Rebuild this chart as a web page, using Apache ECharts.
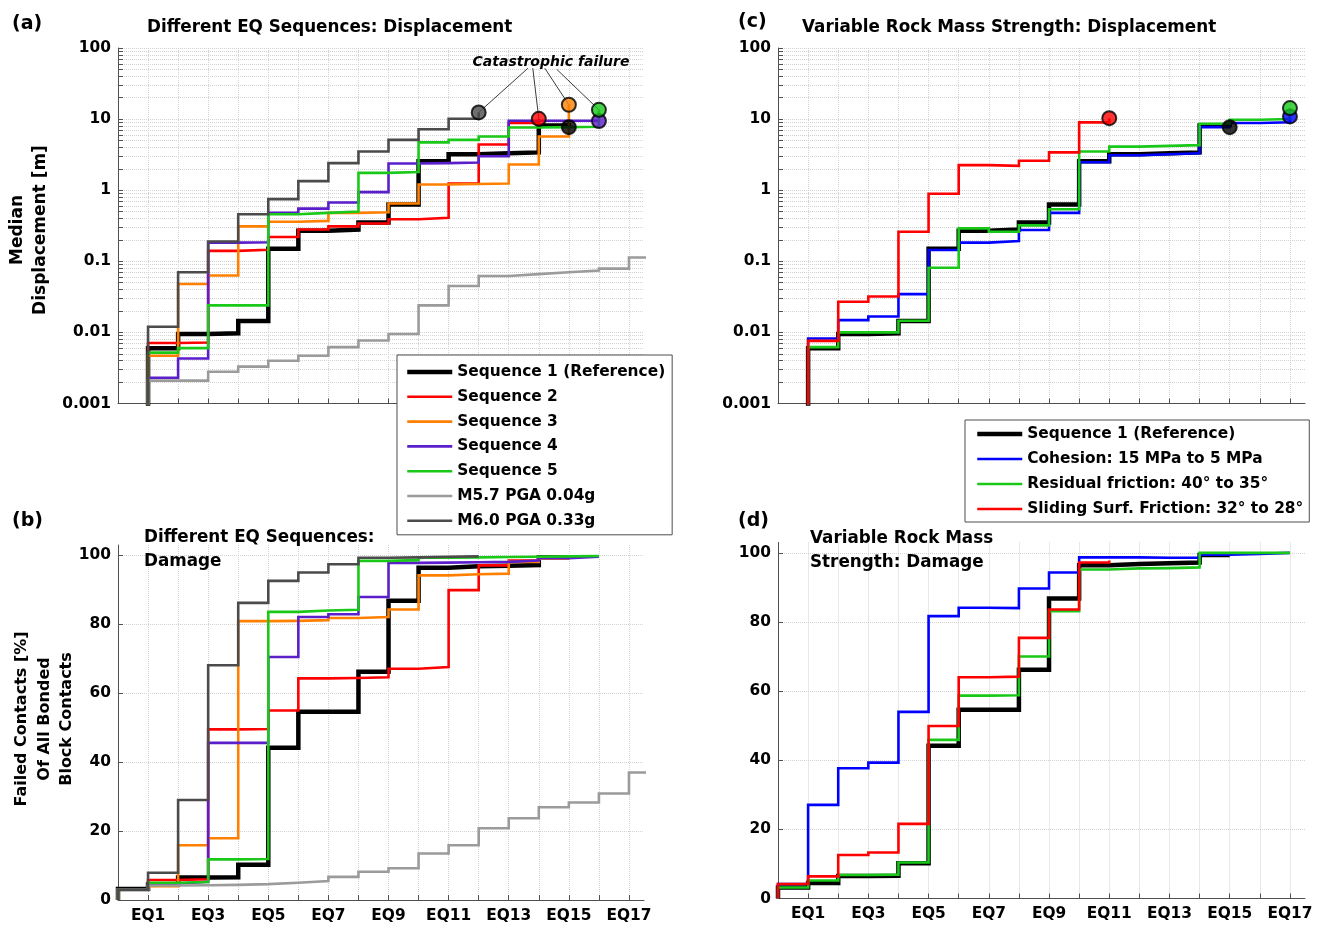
<!DOCTYPE html>
<html>
<head>
<meta charset="utf-8">
<script src="https://cdn.jsdelivr.net/npm/echarts@6/dist/echarts.min.js"></script>
<style>
  html, body { margin: 0; padding: 0; background: #ffffff; }
  #chart { width: 1323px; height: 926px; }
</style>
</head>
<body>
<div id="chart"></div>
<script>
// ---- x axis: earthquake number (0 = initial state) ----
const eqTicks = [1, 2, 3, 4, 5, 6, 7, 8, 9, 10, 11, 12, 13, 14, 15, 16, 17];
const eqLabelTicks = [1, 3, 5, 7, 9, 11, 13, 15, 17];
const dispTickLabels = [0.001, 0.01, 0.1, 1, 10, 100];
const damageTickLabels = [0, 20, 40, 60, 80, 100];

// ---- median displacement [m], index = EQ number ----
const seq1Disp = [0, 0.006, 0.0095, 0.0097, 0.0145, 0.15, 0.27, 0.28, 0.35, 0.63, 2.55, 3.2, 3.3, 3.4, 8.1, 7.7];
const seq2Disp = [0, 0.0071, 0.0072, 0.14, 0.145, 0.22, 0.28, 0.31, 0.34, 0.39, 0.41, 1.24, 4.4, 8.8, 10.1];
const seq3Disp = [0, 0.0047, 0.048, 0.063, 0.31, 0.36, 0.37, 0.48, 0.49, 0.65, 1.2, 1.22, 1.24, 2.3, 5.7, 15.9];
const seq4Disp = [0, 0.0023, 0.0043, 0.183, 0.185, 0.48, 0.55, 0.67, 0.94, 2.37, 2.4, 2.45, 3.0, 9.5, 9.5, 9.5, 9.4];
const seq5Disp = [0, 0.0052, 0.006, 0.024, 0.024, 0.46, 0.48, 0.5, 1.75, 1.8, 4.7, 5.1, 5.7, 7.6, 7.7, 7.8, 13.5];
const m57Disp  = [0, 0.0021, 0.0021, 0.0028, 0.0033, 0.004, 0.0047, 0.0062, 0.0077, 0.0095, 0.024, 0.045, 0.062, 0.066, 0.07, 0.074, 0.079, 0.113, 0.113];
const m60Disp  = [0, 0.012, 0.07, 0.19, 0.46, 0.75, 1.34, 2.4, 3.5, 5.1, 7.2, 10.1, 12.4];
const cohDisp   = [0, 0.0082, 0.0149, 0.0167, 0.0345, 0.144, 0.183, 0.193, 0.275, 0.48, 2.47, 3.1, 3.2, 3.3, 7.7, 8.8, 9.0, 10.9];
const resDisp   = [0, 0.0062, 0.01, 0.01, 0.0146, 0.081, 0.29, 0.26, 0.32, 0.54, 3.5, 4.1, 4.2, 4.3, 8.6, 9.8, 10.0, 14.3];
const slideDisp = [0, 0.0076, 0.027, 0.032, 0.26, 0.89, 2.25, 2.2, 2.6, 3.4, 9.0, 10.3];

// ---- failed contacts [% of all bonded block contacts], index = EQ number ----
const seq1Dmg = [3.2, 4.5, 6.5, 6.6, 10.2, 44.2, 54.6, 54.6, 66.2, 86.8, 96.4, 96.8, 97, 97.2, 99.4, 99.5];
const seq2Dmg = [3, 5.8, 6, 49.5, 49.6, 55, 64.3, 64.4, 64.6, 67.1, 67.6, 89.9, 97.1, 98.5, 99];
const seq3Dmg = [3, 4, 15.9, 17.9, 80.9, 81, 81.2, 81.8, 82.1, 84.3, 94.2, 94.5, 94.7, 98.1, 99, 99.2];
const seq4Dmg = [3, 4.8, 5.3, 45.6, 45.6, 70.5, 82.1, 82.9, 87.9, 97.8, 97.9, 98, 98.1, 98.5, 99.2, 99.6, 99.7];
const seq5Dmg = [3, 5, 5.2, 11.8, 11.9, 83.6, 84, 84.2, 98.4, 98.6, 99.3, 99.4, 99.5, 99.6, 99.7, 99.8, 100];
const m57Dmg  = [3, 4.2, 4.3, 4.4, 4.6, 5.0, 5.5, 6.7, 8.2, 9.2, 13.5, 15.9, 20.8, 23.7, 26.9, 28.3, 30.9, 37, 37];
const m60Dmg  = [3, 7.9, 29, 68.1, 86.2, 92.6, 95, 97.4, 99.3, 99.4, 99.6, 99.7, 99.8];
const cohDmg   = [4.2, 27.1, 37.7, 39.3, 54, 81.7, 84.1, 84, 89.7, 94.3, 98.7, 98.7, 98.6, 98.6, 99.5, 99.7, 100, 100];
const resDmg   = [3.2, 5.2, 6.8, 6.9, 10.4, 45.9, 58.7, 58.8, 70, 83.1, 95.2, 95.5, 95.6, 95.8, 100, 100, 100, 100];
const slideDmg = [4.2, 6.4, 12.6, 13.3, 21.6, 49.9, 64, 64.2, 75.4, 83.6, 97.2, 97.8];

// ---- names ----
const NAMES = {
  seq1: 'Sequence 1 (Reference)', seq2: 'Sequence 2', seq3: 'Sequence 3', seq4: 'Sequence 4', seq5: 'Sequence 5',
  m57: 'M5.7 PGA 0.04g', m60: 'M6.0 PGA 0.33g',
  coh: 'Cohesion: 15 MPa to 5 MPa', res: 'Residual friction: 40\u00b0 to 35\u00b0', slide: 'Sliding Surf. Friction: 32\u00b0 to 28\u00b0'
};
const COLORS = {
  seq1: '#000000', seq2: '#ff0000', seq3: '#ff8000', seq4: '#5a1ecb', seq5: '#19c819',
  m57: '#9b9b9b', m60: '#4b4b4b', coh: '#0000ff', res: '#19c819', slide: '#ff0000'
};

const FONT = 'DejaVu Sans';
const AXIS_COLOR = '#505050';
const GRID_COLOR = '#d2d2d2';
const LOG_FLOOR = 1e-5; // zero displacement lies below the log axis and is clipped

// log grid at 1..9 x each decade
const logGridValues = [];
dispTickLabels.slice(0, -1).forEach(d => {
  for (let m = 1; m <= 9; m++) logGridValues.push(Number((m * d).toPrecision(3)));
});
logGridValues.push(dispTickLabels[dispTickLabels.length - 1]);

const dispPoints = values => values.map((v, i) => [i, v > 0 ? v : LOG_FLOOR]);
const dmgPoints = values => [[0, 0]].concat(values.map((v, i) => [i, v]));

function stairs(key, points, axis) {
  const width = key === 'seq1' ? 4.5 : 2.6;
  return {
    type: 'line', name: NAMES[key], data: points, step: 'end',
    xAxisIndex: axis, yAxisIndex: axis, symbol: 'none', showSymbol: false,
    lineStyle: { color: COLORS[key], width: width, cap: 'butt', join: 'miter' },
    itemStyle: { color: COLORS[key] },
    emphasis: { disabled: true }, silent: true, animation: false, clip: true, z: 2
  };
}

function lastPoint(values) {
  return [values.length - 1, values[values.length - 1]];
}

function failureMarkers(list, axis) {
  return {
    type: 'scatter', name: 'catastrophic failure', xAxisIndex: axis, yAxisIndex: axis,
    symbol: 'circle', symbolSize: 14, z: 6, silent: true, animation: false,
    itemStyle: { borderColor: '#000000', borderWidth: 2 },
    data: list.map(([values, key]) => ({ value: lastPoint(values), itemStyle: { color: COLORS[key] } }))
  };
}

// callout leader lines from the "Catastrophic failure" note to the end points
const calloutFrom = [[13.64, 52], [13.8, 52], [14.2, 52], [14.6, 50]];
const calloutTargets = [m60Disp, seq2Disp, seq3Disp, seq5Disp];
const calloutSeries = {
  type: 'line', name: 'callout', data: [], xAxisIndex: 0, yAxisIndex: 0, z: 4, silent: true, animation: false,
  markLine: {
    silent: true, symbol: ['none', 'none'], animation: false,
    label: { show: false },
    lineStyle: { color: '#3c3c3c', width: 1, type: 'solid' },
    emphasis: { disabled: true },
    data: calloutTargets.map((vals, k) => [{ coord: calloutFrom[k] }, { coord: lastPoint(vals) }])
  }
};

const labelFont = { fontFamily: FONT, fontWeight: 'bold', fontSize: 15.4, color: '#000000' };

function xAxisDef(grid, labelled) {
  return {
    type: 'value', gridIndex: grid, min: 0, max: 17.5,
    axisLine: { show: true, onZero: false, lineStyle: { color: AXIS_COLOR, width: 1 } },
    axisTick: { show: true, inside: true, length: 5, customValues: eqTicks, lineStyle: { color: AXIS_COLOR } },
    axisLabel: labelled
      ? Object.assign({ show: true, customValues: eqLabelTicks, margin: 8, formatter: v => 'EQ' + v }, labelFont)
      : { show: false },
    splitLine: { show: true, lineStyle: { color: GRID_COLOR, width: 1, type: 'dotted' } },
    minorTick: { show: false }, minorSplitLine: { show: false }
  };
}

function logAxisDef(grid) {
  return {
    type: 'log', logBase: 10, gridIndex: grid, min: 0.001, max: 100,
    axisLine: { show: true, onZero: false, lineStyle: { color: AXIS_COLOR, width: 1 } },
    axisTick: { show: true, inside: true, length: 5, customValues: logGridValues, lineStyle: { color: AXIS_COLOR } },
    axisLabel: Object.assign({ show: true, customValues: dispTickLabels, margin: 7,
      formatter: v => String(Number(Number(v).toPrecision(2))) }, labelFont),
    splitLine: { show: true, lineStyle: { color: GRID_COLOR, width: 1, type: 'dotted' } },
    minorTick: { show: false }, minorSplitLine: { show: false }
  };
}

function damageAxisDef(grid) {
  return {
    type: 'value', gridIndex: grid, min: 0, max: 103,
    axisLine: { show: true, onZero: false, lineStyle: { color: AXIS_COLOR, width: 1 } },
    axisTick: { show: true, inside: true, length: 5, customValues: damageTickLabels, lineStyle: { color: AXIS_COLOR } },
    axisLabel: Object.assign({ show: true, customValues: damageTickLabels, margin: 7 }, labelFont),
    splitLine: { show: true, lineStyle: { color: GRID_COLOR, width: 1, type: 'dotted' } },
    minorTick: { show: false }, minorSplitLine: { show: false }
  };
}

const legendText = { fontFamily: FONT, fontWeight: 'bold', fontSize: 15.4, color: '#000000', lineHeight: 18 };

function txt(text, x, y, size, opts) {
  opts = opts || {};
  const font = (opts.italic ? 'italic ' : '') + 'bold ' + size + 'px "' + FONT + '"';
  return {
    type: 'text', x: x, y: y, rotation: opts.rotation || 0, silent: true, z: 30,
    style: {
      text: text, font: font, fill: '#000000',
      align: opts.align || 'left', verticalAlign: 'middle',
      textAlign: opts.align || 'left', textVerticalAlign: 'middle',
      lineHeight: opts.lineHeight || Math.round(size * 1.3)
    }
  };
}

const seqKeys = ['seq1', 'seq2', 'seq3', 'seq4', 'seq5', 'm57', 'm60'];
const dispByKey = { seq1: seq1Disp, seq2: seq2Disp, seq3: seq3Disp, seq4: seq4Disp, seq5: seq5Disp, m57: m57Disp, m60: m60Disp,
  coh: cohDisp, res: resDisp, slide: slideDisp };
const dmgByKey = { seq1: seq1Dmg, seq2: seq2Dmg, seq3: seq3Dmg, seq4: seq4Dmg, seq5: seq5Dmg, m57: m57Dmg, m60: m60Dmg,
  coh: cohDmg, res: resDmg, slide: slideDmg };
const rockKeys = ['seq1', 'coh', 'res', 'slide'];

const series = [];
seqKeys.forEach(k => series.push(stairs(k, dispPoints(dispByKey[k]), 0)));
series.push(calloutSeries);
series.push(failureMarkers([[seq1Disp, 'seq1'], [seq2Disp, 'seq2'], [seq3Disp, 'seq3'], [seq4Disp, 'seq4'], [seq5Disp, 'seq5'], [m60Disp, 'm60']], 0));
seqKeys.forEach(k => series.push(stairs(k, dmgPoints(dmgByKey[k]), 1)));
rockKeys.forEach(k => series.push(stairs(k, dispPoints(dispByKey[k]), 2)));
series.push(failureMarkers([[seq1Disp, 'seq1'], [cohDisp, 'coh'], [resDisp, 'res'], [slideDisp, 'slide']], 2));
rockKeys.forEach(k => series.push(stairs(k, dmgPoints(dmgByKey[k]), 3)));

// legend entries show only the line sample, drawn with the series' own width
const legendBase = {
  orient: 'vertical', itemWidth: 45, itemHeight: 18,
  backgroundColor: '#ffffff', borderColor: '#4d4d4d', borderWidth: 1, borderRadius: 0,
  textStyle: legendText, selectedMode: false, z: 20,
  itemStyle: { opacity: 0, borderWidth: 0 },
  lineStyle: { width: 'inherit' }
};

const option = {
  backgroundColor: '#ffffff',
  animation: false,
  grid: [
    { left: 118, top: 48, width: 526, height: 355.5, outerBoundsMode: 'none', containLabel: false },
    { left: 118, top: 545, width: 526, height: 355, outerBoundsMode: 'none', containLabel: false },
    { left: 778, top: 48, width: 527, height: 355.5, outerBoundsMode: 'none', containLabel: false },
    { left: 778, top: 542.5, width: 527, height: 356, outerBoundsMode: 'none', containLabel: false }
  ],
  xAxis: [xAxisDef(0, false), xAxisDef(1, true), xAxisDef(2, false), xAxisDef(3, true)],
  yAxis: [logAxisDef(0), damageAxisDef(1), logAxisDef(2), damageAxisDef(3)],
  legend: [
    Object.assign({}, legendBase, {
      data: seqKeys.map(k => NAMES[k]), left: 397, top: 355, itemGap: 6.8, padding: [8, 7, 5, 8]
    }),
    Object.assign({}, legendBase, {
      data: rockKeys.map(k => NAMES[k]), left: 965, top: 420, itemGap: 7, padding: [5, 6, 4, 10]
    })
  ],
  graphic: [
    txt('(a)', 12, 24, 19),
    txt('Different EQ Sequences: Displacement', 147, 28, 16.8),
    txt('Catastrophic failure', 551, 62, 14, { italic: true, align: 'center' }),
    txt('Median\nDisplacement [m]', 29, 230, 17, { rotation: Math.PI / 2, align: 'center', lineHeight: 23 }),
    txt('(b)', 12, 521, 19),
    txt('Different EQ Sequences:\nDamage', 144, 550, 16.8, { lineHeight: 24 }),
    txt('Failed Contacts [%]\nOf All Bonded\nBlock Contacts', 44.5, 719, 16, { rotation: Math.PI / 2, align: 'center', lineHeight: 22.5 }),
    txt('(c)', 738, 22, 19),
    txt('Variable Rock Mass Strength: Displacement', 802, 28, 16.8),
    txt('(d)', 738, 521, 19),
    txt('Variable Rock Mass\nStrength: Damage', 810, 551, 16.8, { lineHeight: 24 })
  ],
  series: series
};

const chart = echarts.init(document.getElementById('chart'), null, { renderer: 'canvas' });
chart.setOption(option);
</script>
</body>
</html>
